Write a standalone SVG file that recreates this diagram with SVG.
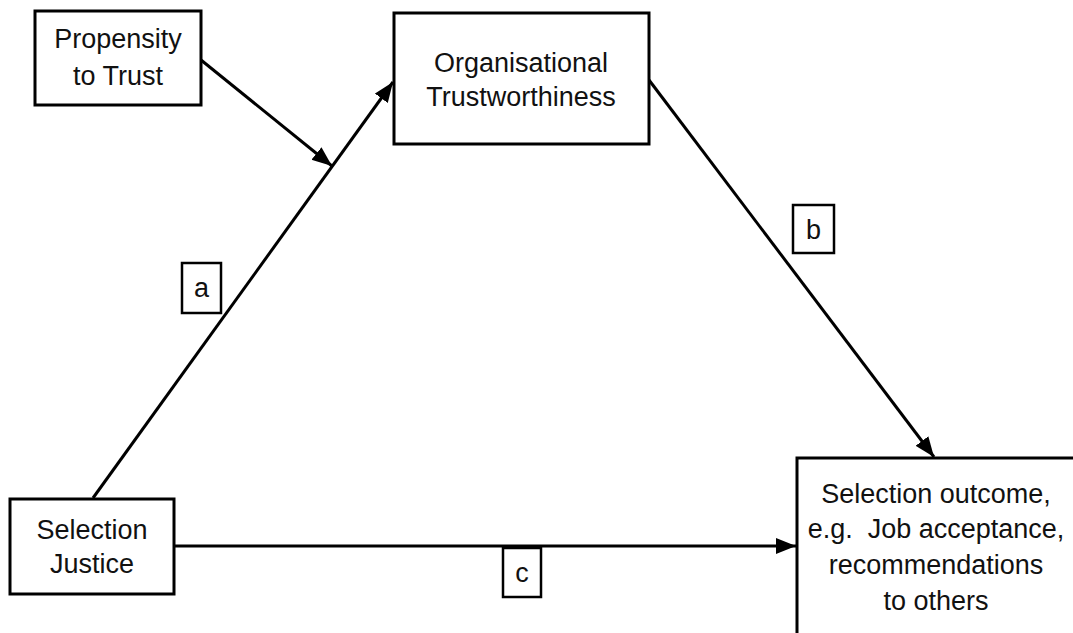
<svg xmlns="http://www.w3.org/2000/svg" width="1073" height="633" viewBox="0 0 1073 633">
<style>
.box{fill:#fff;stroke:#000;stroke-width:3}
.lbl{fill:#fff;stroke:#000;stroke-width:2.5}
text{font-family:"Liberation Sans",Arial,sans-serif;font-size:27px;fill:#111;text-anchor:middle}
.conn{stroke:#000;stroke-width:3;fill:none;marker-end:url(#ah)}
</style>
<defs>
<marker id="ah" markerUnits="userSpaceOnUse" markerWidth="22" markerHeight="18" refX="20" refY="8" orient="auto">
<path d="M0,0 L20,8 L0,16 Z" fill="#000"/>
</marker>
</defs>
<rect width="1073" height="633" fill="#fff"/>
<g id="connectors">
<line class="conn" x1="93" y1="498" x2="393" y2="82"/>
<line class="conn" x1="201" y1="60" x2="332" y2="166"/>
<line class="conn" x1="649" y1="80" x2="934" y2="457"/>
<line class="conn" x1="174" y1="546" x2="796" y2="546"/>
</g>
<g id="propensity">
<rect class="box" x="35" y="11" width="166" height="94"/>
<text x="118" y="48">Propensity</text>
<text x="118" y="85">to Trust</text>
</g>
<g id="org">
<rect class="box" x="394" y="13" width="255" height="131"/>
<text x="521" y="72">Organisational</text>
<text x="521" y="106">Trustworthiness</text>
</g>
<g id="justice">
<rect class="box" x="10" y="499" width="164" height="95"/>
<text x="92" y="539">Selection</text>
<text x="92" y="573">Justice</text>
</g>
<g id="outcome">
<rect class="box" x="797" y="458" width="290" height="200"/>
<text x="936" y="503">Selection outcome,</text>
<text x="936" y="538" xml:space="preserve">e.g.  Job acceptance,</text>
<text x="936" y="574">recommendations</text>
<text x="936" y="610">to others</text>
</g>
<g id="label-a">
<rect class="lbl" x="182" y="263" width="39" height="50"/>
<text x="201.5" y="297">a</text>
</g>
<g id="label-b">
<rect class="lbl" x="793" y="205" width="41" height="48"/>
<text x="813.5" y="239">b</text>
</g>
<g id="label-c">
<rect class="lbl" x="503" y="548" width="38" height="49"/>
<text x="522" y="582">c</text>
</g>
</svg>
